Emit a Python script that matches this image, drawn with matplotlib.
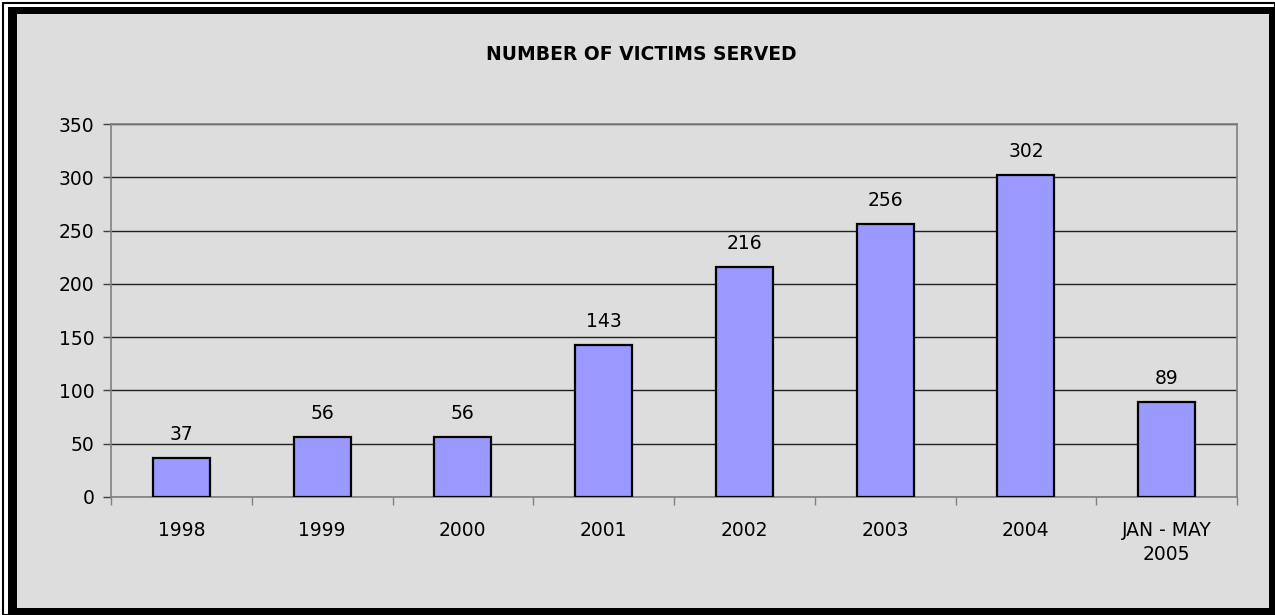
import matplotlib.pyplot as plt
from matplotlib.patches import Rectangle
import numpy as np

# data
categories = ['1998', '1999', '2000', '2001', '2002', '2003', '2004', 'JAN - MAY\n2005']
victims = [37, 56, 56, 143, 216, 256, 302, 89]
yticks = [0, 50, 100, 150, 200, 250, 300, 350]

W, H = 1275, 615
fig = plt.figure(figsize=(W / 100, H / 100), dpi=100)
fig.patch.set_facecolor('white')

# frame: thin outer line, white gap, thick black border
frame = [
    Rectangle((3 / W, 0), 1 - 3 / W, 1 - 3 / H, facecolor='white', edgecolor='black', lw=1.5),
    Rectangle((8 / W, 0), 1 - 8 / W, 1 - 7 / H, facecolor='black', edgecolor='none'),
    Rectangle((17 / W, 7 / H), 1 - 23 / W, 1 - 21 / H, facecolor='#DDDDDD', edgecolor='none'),
]
for p in frame:
    p.set_transform(fig.transFigure)
    p.set_zorder(-5)
    fig.patches.append(p)

ax = fig.add_axes([111 / W, 1 - 497 / H, (1237 - 111) / W, (497 - 124) / H])
ax.set_facecolor('#DDDDDD')

fs = 13.5
x = np.arange(len(categories))
bars = ax.bar(x, victims, width=0.405, color='#9999FF', edgecolor='black', linewidth=1.6, zorder=3)
for b, v in zip(bars, victims):
    ax.text(b.get_x() + b.get_width() / 2, v + 13, str(v), ha='center', va='bottom',
            fontsize=fs, color='black')

ax.set_xlim(-0.5, len(categories) - 0.5)
ax.set_ylim(0, 350)
ax.set_yticks(yticks)
ax.yaxis.grid(True, color='#202020', lw=1, zorder=1)
ax.set_axisbelow(True)

ax.set_xticks(x)
ax.set_xticklabels(categories, fontsize=fs, linespacing=1.35)
ax.set_xticks(np.arange(len(categories) + 1) - 0.5, minor=True)
ax.tick_params(axis='x', which='major', length=0, pad=17)
ax.tick_params(axis='x', which='minor', length=6, width=1, color='#808080', direction='out')
ax.tick_params(axis='y', length=6, width=1, color='#404040', labelsize=fs, pad=6)

for s in ax.spines.values():
    s.set_color('#808080')
    s.set_linewidth(1.2)

fig.text(641 / W, 1 - 55 / H, 'NUMBER OF VICTIMS SERVED', ha='center', va='center',
         fontsize=13.5, fontweight='bold')

plt.savefig('out.png', dpi=100)
